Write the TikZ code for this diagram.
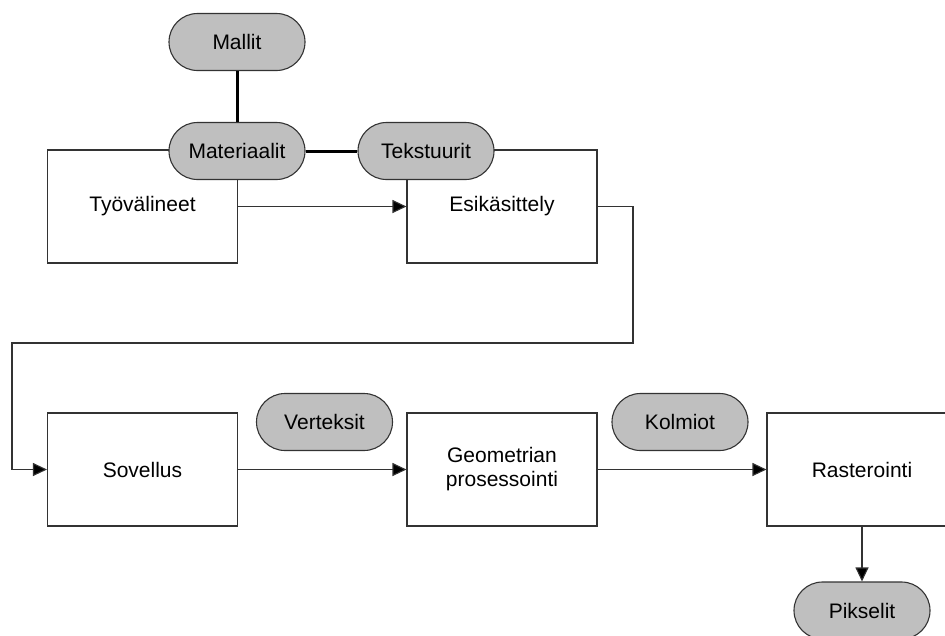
\documentclass[tikz,border=0pt]{standalone}
\usepackage{fontspec}
\setmainfont{Liberation Sans}
\usetikzlibrary{shapes.misc,arrows.meta}
\begin{document}
\begin{tikzpicture}[x=1pt,y=-1pt,
  font=\fontsize{21}{24}\selectfont,
  stepbox/.style={draw=black!80,line width=1.1pt,fill=white,rectangle,minimum width=190pt,minimum height=113pt,inner sep=0pt,align=center},
  pill/.style={draw=black!80,line width=1.1pt,fill=black!25,rounded rectangle,minimum width=136pt,minimum height=57pt,inner sep=0pt},
  arr/.style={draw=black!80,line width=1.1pt,-{Triangle[length=14pt,width=13pt,fill=black]}},
  thick link/.style={draw=black,line width=3pt}]
\useasboundingbox (0,0) rectangle (945,635);
\fill[white] (0,0) rectangle (945,635);
\clip (0,0) rectangle (945,635);
% boxes
\node[stepbox] (tyo) at (142.5,206.5) {Työvälineet};
\node[stepbox] (esi) at (502,206.5) {Esikäsittely};
\node[stepbox] (sov) at (142.5,469.5) {Sovellus};
\node[stepbox] (geo) at (502,469.5) {Geometrian\\prosessointi};
\node[stepbox] (ras) at (862,469.5) {Rasterointi};
% pills
\node[pill] (mallit) at (237,42) {Mallit};
\node[pill] (mat) at (237,151) {Materiaalit};
\node[pill] (tek) at (426,151) {Tekstuurit};
\node[pill] (ver) at (324.5,422) {Verteksit};
\node[pill] (kol) at (680,422) {Kolmiot};
\node[pill] (pik) at (862,610.5) {Pikselit};
% thick links
\draw[thick link] (mallit.south) -- (mat.north);
\draw[thick link] (mat.east) -- (tek.west);
% arrows
\coordinate (c1) at (633,343);
\coordinate (c2) at (12,343);
\draw[arr] (tyo.east) -- (esi.west);
\draw[arr] (esi.east) -| (c1) -- (c2) |- (sov.west);
\draw[arr] (sov.east) -- (geo.west);
\draw[arr] (geo.east) -- (ras.west);
\draw[arr] (ras.south) -- (pik.north);
\end{tikzpicture}
\end{document}
